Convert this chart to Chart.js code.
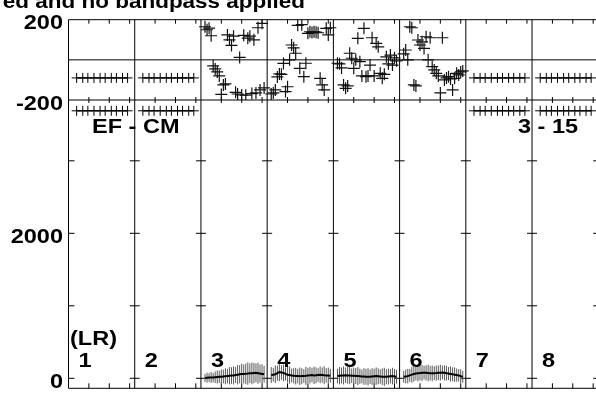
<!DOCTYPE html>
<html>
<head>
<meta charset="utf-8">
<script src="https://cdn.jsdelivr.net/npm/chart.js@4.4.1/dist/chart.umd.min.js"></script>
<style>
  html, body { margin: 0; padding: 0; background: #fff; }
  #c { display: block; }
</style>
</head>
<body>
<canvas id="c" width="596" height="397"></canvas>
<script>
"use strict";

// ---------------------------------------------------------------------------
// Data (8 IFs, channels 2..31 of each IF)
// ---------------------------------------------------------------------------
const CHANNELS = [2, 3, 4, 5, 6, 7, 8, 9, 10, 11, 12, 13, 14, 15, 16,
  17, 18, 19, 20, 21, 22, 23, 24, 25, 26, 27, 28, 29, 30, 31];

// phase [deg] per channel
const PHASE_IF3 = [165, 150, 158, 120, -30, -45, -60, -80, -172, -125, -120, 124, 100, 72, 118,
  -162, -170, 12, -175, 122, -176, 108, 118, -168, 100, -165, 160, -150, 182, -140];
const PHASE_IF4 = [-170, -165, -150, -85, -70, -72, -18, -158, -134, 0, 74, 60, 33, 172, -42,
  175, -84, -17, 132, 140, 136, 140, 138, 135, -92, -125, -150, 157, 124, 160];
const PHASE_IF5 = [-17, -20, -40, -125, -142, -130, 33, 8, -42, 0, 107, -9, -80, 157, -84,
  -80, -26, 110, -80, 82, 65, -67, -92, -72, 15, -20, 24, -26, 10, -5];
const PHASE_IF6 = [30, 49, 0, 165, 160, -125, -130, 99, 74, 90, 57, 115, 0, 110, -34,
  -50, -67, -80, -165, 110, -100, -90, -84, -95, -150, -92, -67, -75, -60, -55];

// amplitude and its error per channel
const AMP_IF3 = [5, 8, 10, 12, 10, 15, 18, 20, 22, 25, 28, 30, 35, 38, 40,
  45, 50, 55, 58, 60, 62, 65, 70, 68, 72, 75, 70, 65, 60, 55];
const AMP_ERR_IF3 = [55, 70, 60, 75, 65, 80, 90, 85, 100, 95, 110, 100, 120, 115, 125,
  110, 135, 125, 145, 130, 140, 155, 135, 150, 140, 130, 145, 125, 135, 115];
const AMP_IF4 = [45, 50, 55, 70, 85, 80, 75, 60, 50, 45, 40, 35, 30, 30, 28,
  30, 32, 35, 40, 42, 45, 40, 42, 45, 48, 45, 42, 40, 38, 35];
const AMP_ERR_IF4 = [110, 95, 120, 105, 125, 100, 115, 90, 110, 120, 95, 105, 115, 100, 120,
  110, 95, 125, 105, 115, 100, 120, 110, 95, 115, 105, 125, 100, 110, 95];
const AMP_IF5 = [30, 35, 38, 40, 42, 40, 38, 35, 35, 32, 30, 28, 25, 25, 22,
  20, 22, 25, 28, 30, 28, 25, 22, 20, 22, 25, 28, 30, 25, 20];
const AMP_ERR_IF5 = [100, 120, 110, 125, 105, 115, 120, 100, 115, 110, 125, 105, 95, 115, 110,
  120, 100, 115, 105, 120, 110, 100, 115, 125, 105, 110, 100, 115, 105, 95];
const AMP_IF6 = [20, 25, 30, 40, 50, 60, 65, 70, 72, 75, 78, 75, 72, 70, 68,
  70, 72, 75, 78, 80, 75, 70, 65, 60, 55, 50, 45, 40, 30, 20];
const AMP_ERR_IF6 = [80, 95, 100, 90, 110, 105, 95, 115, 100, 110, 95, 105, 115, 100, 110,
  95, 105, 100, 110, 95, 105, 100, 90, 105, 95, 100, 90, 85, 95, 80];

// IFs without data: a flat row of markers
const EMPTY_IFS = [1, 2, 7, 8];
const EMPTY_CHANNELS = [4, 7, 9.5, 12.5, 15.5, 18, 21, 23.5, 26.5, 29];
const EMPTY_PHASE = -90;
const EMPTY_AMP = 3690;

// axis texts
const IF_LABELS = ["1", "2", "3", "4", "5", "6", "7", "8"];
const PHASE_TICK_LABELS = [200, -200];
const AMP_TICK_LABELS = [2000, 0];
const AMP_TICKS = [0, 1000, 2000, 3000];
const CHAN_TICKS = [10, 20, 30];
const TITLE = "ed and no bandpass applied";
const BASELINE = "EF - CM";
const STOKES = "(LR)";
const TIMERANGE = "3 - 15";

// ---------------------------------------------------------------------------
// Layout
// ---------------------------------------------------------------------------
const PW = 32.5;              // x units per IF panel
const N_IF = 8;
const LEFT = 68.5, TOP = 19.7, BOTTOM = 388.3, W = 596, H = 397;
const AREA_RIGHT = 591;       // Chart.js keeps 5px free on the right
const PANEL_PX = 66.5;
const X_MAX = PW * (AREA_RIGHT - LEFT) / PANEL_PX;
const FONT = 'bold 21px "Liberation Sans", Arial, sans-serif';
const STRETCH = 1.12;

const pts = (ifNum, chans, vals) =>
  chans.map((c, i) => ({ x: (ifNum - 1) * PW + c, y: vals[i] }));

const datasets = [];
[[3, PHASE_IF3], [4, PHASE_IF4], [5, PHASE_IF5], [6, PHASE_IF6]].forEach(([n, v]) => {
  datasets.push({ yAxisID: "yPh", data: pts(n, CHANNELS, v), showLine: false,
    pointStyle: "cross", pointRadius: 6, pointBorderColor: "#111", pointBorderWidth: 1.2 });
});
[[3, AMP_IF3, AMP_ERR_IF3], [4, AMP_IF4, AMP_ERR_IF4],
 [5, AMP_IF5, AMP_ERR_IF5], [6, AMP_IF6, AMP_ERR_IF6]].forEach(([n, v, e]) => {
  datasets.push({ yAxisID: "yAmp", data: pts(n, CHANNELS, v), err: e,
    borderColor: "#000", borderWidth: 2, pointRadius: 0, tension: 0 });
});
EMPTY_IFS.forEach((n) => {
  datasets.push({ yAxisID: "yPh", data: pts(n, EMPTY_CHANNELS, EMPTY_CHANNELS.map(() => EMPTY_PHASE)),
    borderColor: "#000", borderWidth: 1, pointStyle: "cross", pointRadius: 5,
    pointBorderColor: "#000", pointBorderWidth: 1, clip: false });
  datasets.push({ yAxisID: "yAmp", data: pts(n, EMPTY_CHANNELS, EMPTY_CHANNELS.map(() => EMPTY_AMP)),
    borderColor: "#000", borderWidth: 1, pointStyle: "cross", pointRadius: 5,
    pointBorderColor: "#000", pointBorderWidth: 1, clip: false });
});

function line(ctx, x1, y1, x2, y2) {
  ctx.beginPath(); ctx.moveTo(x1, y1); ctx.lineTo(x2, y2); ctx.stroke();
}

// frame, panel dividers, ticks and amplitude error bars
const framePlugin = {
  id: "frame",
  beforeDatasetsDraw(chart) {
    const { ctx, chartArea: a, scales: { x, yPh, yAmp } } = chart;
    ctx.save();
    ctx.strokeStyle = "#000";
    ctx.lineWidth = 1;
    const yMid = yPh.getPixelForValue(-200);
    [a.top, yPh.getPixelForValue(0), yMid, a.bottom].forEach((y) => line(ctx, a.left, y, W, y));
    for (let p = 0; p <= N_IF; p++) {
      const px = x.getPixelForValue(p * PW);
      line(ctx, px, a.top, px, a.bottom);
      AMP_TICKS.forEach((v) => {
        const py = yAmp.getPixelForValue(v);
        if (p === 0) line(ctx, px, py, px + 6, py);
        else line(ctx, px - 5, py, px + 5, py);
      });
      CHAN_TICKS.forEach((c) => {
        const tx = x.getPixelForValue(p * PW + c);
        line(ctx, tx, a.top, tx, a.top + 4);
        line(ctx, tx, yMid - 3, tx, yMid + 3);
        line(ctx, tx, a.bottom, tx, a.bottom - 5);
      });
    }
    // error bars
    ctx.strokeStyle = "#5a5a5a";
    chart.data.datasets.forEach((ds) => {
      if (!ds.err) return;
      ds.data.forEach((d, i) => {
        const px = x.getPixelForValue(d.x);
        line(ctx, px, yAmp.getPixelForValue(d.y - ds.err[i]), px, yAmp.getPixelForValue(d.y + ds.err[i]));
      });
    });
    ctx.restore();
  },
};

function text(ctx, s, x, y, align, stretch) {
  ctx.save();
  ctx.font = FONT;
  ctx.fillStyle = "#000";
  ctx.textBaseline = "alphabetic";
  ctx.textAlign = align || "left";
  ctx.translate(x, y);
  ctx.scale(stretch || STRETCH, 1);
  ctx.fillText(s, 0, 0);
  ctx.restore();
}

const labelPlugin = {
  id: "labels",
  afterDraw(chart) {
    const { ctx, scales: { x, yPh, yAmp } } = chart;
    text(ctx, TITLE, 305, 8, "right", 1.07);
    PHASE_TICK_LABELS.forEach((v) => text(ctx, String(v), 63, yPh.getPixelForValue(v) + 9.5, "right"));
    AMP_TICK_LABELS.forEach((v) => text(ctx, String(v), 63, yAmp.getPixelForValue(v) + 9.5, "right"));
    text(ctx, BASELINE, 92, 133);
    text(ctx, TIMERANGE, 518, 133);
    text(ctx, STOKES, 70, 345);
    IF_LABELS.forEach((s, p) => text(ctx, s, x.getPixelForValue(p * PW) + 10, 366.5));
  },
};

new Chart(document.getElementById("c"), {
  type: "line",
  data: { datasets },
  options: {
    responsive: false,
    animation: false,
    events: [],
    layout: { padding: { top: TOP, bottom: H - BOTTOM, left: 0, right: 0 } },
    plugins: { legend: { display: false }, tooltip: { enabled: false }, title: { display: false } },
    scales: {
      x: { type: "linear", min: 0, max: X_MAX, display: false },
      yAmp: {
        type: "linear", position: "left", stack: "v", stackWeight: BOTTOM - 100,
        min: -138, max: 3839,
        grid: { display: false }, border: { display: false }, ticks: { display: false },
        afterFit(s) { s.width = LEFT; },
      },
      yPh: {
        type: "linear", position: "left", stack: "v", stackWeight: 100 - TOP,
        min: -200, max: 200,
        grid: { display: false }, border: { display: false }, ticks: { display: false },
        afterFit(s) { s.width = LEFT; },
      },
    },
  },
  plugins: [framePlugin, labelPlugin],
});
</script>
</body>
</html>
